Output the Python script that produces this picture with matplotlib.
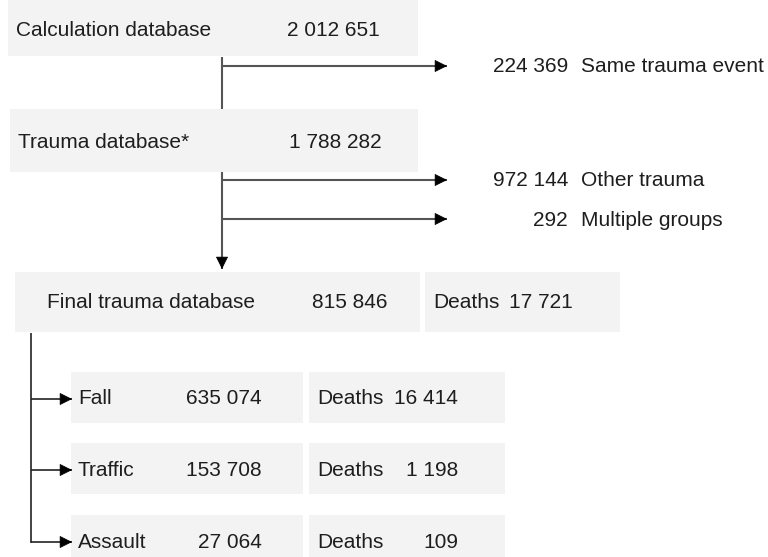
import matplotlib.pyplot as plt
from matplotlib.patches import Rectangle

# data
main_labels = ["Calculation database", "Trauma database*", "Final trauma database"]
main_counts = [2012651, 1788282, 815846]
excluded_counts = [224369, 972144, 292]
excluded_labels = ["Same trauma event", "Other trauma", "Multiple groups"]
final_deaths = 17721
groups = ["Fall", "Traffic", "Assault"]
group_counts = [635074, 153708, 27064]
group_deaths = [16414, 1198, 109]


def fmt(n):
    return f"{n:,}".replace(",", " ")


plt.rcParams['font.family'] = ['Liberation Sans', 'DejaVu Sans']
FS = 15
TXT = '#1e1e1e'
BOX = '#f3f3f3'
LINE = '#555555'

fig = plt.figure(figsize=(7.68, 5.57), dpi=100)
ax = fig.add_axes([0, 0, 1, 1])
ax.set_xlim(0, 768)
ax.set_ylim(557, 0)
ax.axis('off')


def box(x1, y1, x2, y2):
    ax.add_patch(Rectangle((x1, y1), x2 - x1, y2 - y1, facecolor=BOX, edgecolor='none', zorder=1))


def line(xs, ys, color=LINE, lw=1.5):
    ax.plot(xs, ys, color=color, lw=lw, solid_capstyle='butt', zorder=2)


def arrow(x1, y1, x2, y2, color=LINE, lw=1.5):
    # grey shaft, black head
    line([x1, x2], [y1, y2], color=color, lw=lw)
    dx = 0 if x1 == x2 else (6 if x2 > x1 else -6)
    dy = 0 if y1 == y2 else (6 if y2 > y1 else -6)
    ax.annotate('', xy=(x2, y2), xytext=(x2 - dx, y2 - dy),
                arrowprops=dict(arrowstyle='-|>,head_length=0.8,head_width=0.4', color='black',
                                lw=0.5, mutation_scale=10, shrinkA=0, shrinkB=0), zorder=3)


# top boxes
box(8, 0, 418, 56)
ax.text(16, 30, main_labels[0], fontsize=FS, color=TXT, va='center')
ax.text(380, 30, fmt(main_counts[0]), fontsize=FS, color=TXT, va='center', ha='right')

box(10, 109, 418, 172)
ax.text(18, 142, main_labels[1], fontsize=FS, color=TXT, va='center')
ax.text(382, 142, fmt(main_counts[1]), fontsize=FS, color=TXT, va='center', ha='right')

# exclusions
line([222, 222], [57, 109])
excl_y = [66, 180, 219]
for y, n, lab in zip(excl_y, excluded_counts, excluded_labels):
    arrow(222, y, 447, y)
    ax.text(568, y + 1, fmt(n), fontsize=FS, color=TXT, va='center', ha='right')
    ax.text(581, y + 1, lab, fontsize=FS, color=TXT, va='center')

arrow(222, 172, 222, 269)

# final database
box(15, 272, 420, 332)
box(425, 272, 620, 332)
ax.text(47, 303, main_labels[2], fontsize=FS, color=TXT, va='center')
ax.text(387, 303, fmt(main_counts[2]), fontsize=FS, color=TXT, va='center', ha='right')
ax.text(433, 303, "Deaths", fontsize=FS, color=TXT, va='center')
ax.text(573, 303, fmt(final_deaths), fontsize=FS, color=TXT, va='center', ha='right')

# groups
grp_y = [399, 470, 542]
box_h = 50
line([31, 31], [333, 543], color='#222222', lw=1.2)
for y, g, n, d in zip(grp_y, groups, group_counts, group_deaths):
    box(71, y - 27, 303, y - 27 + box_h + 1)
    box(309, y - 27, 505, y - 27 + box_h + 1)
    arrow(31, y, 72, y, color='#222222', lw=1.2)
    ax.text(78, y, g, fontsize=FS, color=TXT, va='center')
    ax.text(262, y, fmt(n), fontsize=FS, color=TXT, va='center', ha='right')
    ax.text(317, y, "Deaths", fontsize=FS, color=TXT, va='center')
    ax.text(458, y, fmt(d), fontsize=FS, color=TXT, va='center', ha='right')

fig.savefig('out.png', dpi=100)
